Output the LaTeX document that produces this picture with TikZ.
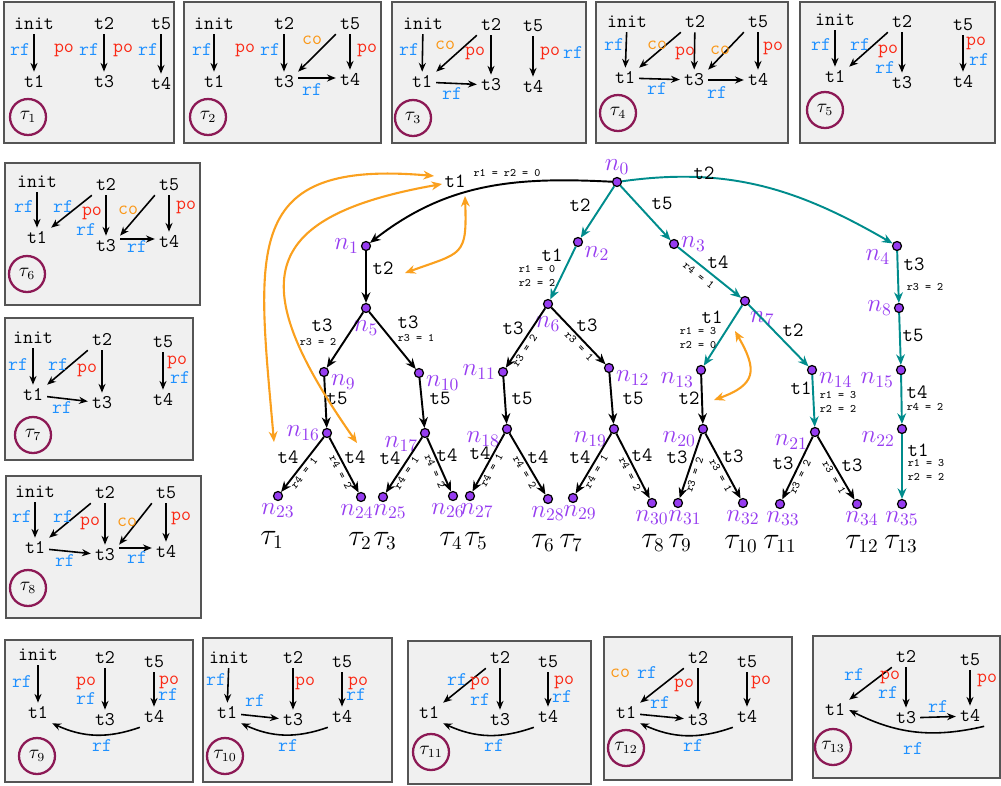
\documentclass[tikz,border=0pt]{standalone}
\usepackage{fontspec}
\usepackage{tikz}
\usetikzlibrary{arrows.meta,positioning}
\definecolor{rfblue}{RGB}{30,144,255}
\definecolor{pored}{RGB}{250,40,20}
\definecolor{coorange}{RGB}{250,150,20}
\definecolor{boxfill}{RGB}{240,240,240}
\definecolor{boxline}{RGB}{85,85,85}
\definecolor{ringred}{RGB}{140,25,85}
\definecolor{nodepurple}{RGB}{150,60,240}
\definecolor{treeteal}{RGB}{0,140,140}
\definecolor{raceorange}{RGB}{250,160,30}
\tikzset{
  ev/.style={font=\ttfamily\fontsize{11}{13}\selectfont, inner sep=2.2pt},
  rfl/.style={font=\ttfamily\fontsize{11}{13}\selectfont, text=rfblue, inner sep=0pt},
  pol/.style={font=\ttfamily\fontsize{11}{13}\selectfont, text=pored, inner sep=0pt},
  col/.style={font=\ttfamily\fontsize{11}{13}\selectfont, text=coorange, inner sep=0pt},
  relarrow/.style={-{Stealth[length=5pt,width=4pt]}, line width=0.9pt},
  trbox/.style={draw=boxline, fill=boxfill, line width=1pt},
  tracering/.style={circle, draw=ringred, line width=1.3pt, minimum size=7.2mm, inner sep=0pt, font=\fontsize{10.5}{12}\selectfont},
  tnode/.style={circle, draw=black, fill=nodepurple, line width=0.7pt, minimum size=1.8mm, inner sep=0pt, label distance=0.5pt},
  nlab/.style={text=nodepurple, font=\fontsize{14}{16}\selectfont, inner sep=1pt},
  tedge/.style={-{Stealth[length=6pt,width=5pt]}, line width=1.1pt},
  elab/.style={font=\ttfamily\fontsize{11.5}{13}\selectfont, inner sep=0pt},
  rlab/.style={font=\ttfamily\fontsize{6.5}{7.5}\selectfont, inner sep=1pt, align=center},
  leaflab/.style={font=\fontsize{16}{18}\selectfont, inner sep=0pt},
  racearrow/.style={{Stealth[length=6pt,width=5pt]}-{Stealth[length=6pt,width=5pt]}, draw=raceorange, line width=1.2pt},
}
\begin{document}
\begin{tikzpicture}[x=0.2mm,y=-0.2mm]
\useasboundingbox (0,0) rectangle (1001,786);

% trace tau1
\begin{scope}[shift={(4,2)}]
  \draw[trbox] (0,0) rectangle (170,141);
  \node[ev] (s1init) at (30,22) {init};
  \node[ev] (s1t2) at (100,22) {t2};
  \node[ev] (s1t5) at (157,22) {t5};
  \node[ev] (s1t1) at (30,80) {t1};
  \node[ev] (s1t3) at (100,80) {t3};
  \node[ev] (s1t4) at (157,82) {t4};
  \path[relarrow] (s1init) edge (s1t1) (s1t2) edge (s1t3) (s1t5) edge (s1t4);
  \node[rfl] (s1a) at (16,48) {rf};
  \node[pol] (s1b) at (60,48) {po};
  \node[rfl] (s1c) at (85,48) {rf};
  \node[pol] (s1d) at (119,48) {po};
  \node[rfl] (s1e) at (144,48) {rf};
  \node[tracering] (c1) at (24,115) {$\tau_{1}$};
\end{scope}

% trace tau2
\begin{scope}[shift={(184,2)}]
  \draw[trbox] (0,0) rectangle (197,141);
  \node[ev] (s2init) at (30,22) {init};
  \node[ev] (s2t2) at (100,22) {t2};
  \node[ev] (s2t5) at (166,22) {t5};
  \node[ev] (s2t1) at (30,80) {t1};
  \node[ev] (s2t3) at (100,80) {t3};
  \node[ev] (s2t4) at (166,78) {t4};
  \path[relarrow] (s2init) edge (s2t1) (s2t2) edge (s2t3) (s2t5) edge (s2t4);
  \path[relarrow] (s2t5.south west) edge (s2t3.north east);
  \path[relarrow] ([yshift=0.8mm]s2t3.east) edge ([yshift=0.8mm]s2t3.east -| s2t4.west);
  \node[rfl] (s2a) at (18,48) {rf};
  \node[pol] (s2b) at (61,48) {po};
  \node[rfl] (s2c) at (86,48) {rf};
  \node[col] (s2d) at (128,38) {co};
  \node[pol] (s2e) at (183,48) {po};
  \node[rfl] (s2f) at (128,88) {rf};
  \node[tracering] (c2) at (24,115) {$\tau_{2}$};
\end{scope}

% trace tau3
\begin{scope}[shift={(392,2)}]
  \draw[trbox] (0,0) rectangle (194,141);
  \node[ev] (s3init) at (31,22) {init};
  \node[ev] (s3t2) at (99,23) {t2};
  \node[ev] (s3t5) at (141,24) {t5};
  \node[ev] (s3t1) at (30,80) {t1};
  \node[ev] (s3t3) at (99,83) {t3};
  \node[ev] (s3t4) at (141,85) {t4};
  \path[relarrow] (s3init) edge (s3t1) (s3t2) edge (s3t3) (s3t5) edge (s3t4);
  \path[relarrow] (s3t2.south west) edge (s3t1.north east) (s3t1) edge (s3t3);
  \node[rfl] (s3a) at (17,48) {rf};
  \node[col] (s3b) at (53,43) {co};
  \node[pol] (s3c) at (83,51) {po};
  \node[pol] (s3d) at (158,51) {po};
  \node[rfl] (s3e) at (181,51) {rf};
  \node[rfl] (s3f) at (60,92) {rf};
  \node[tracering] (c3) at (21,116) {$\tau_{3}$};
\end{scope}

% trace tau4
\begin{scope}[shift={(596,2)}]
  \draw[trbox] (0,0) rectangle (192,141);
  \node[ev] (s4init) at (31,20) {init};
  \node[ev] (s4t2) at (99,20) {t2};
  \node[ev] (s4t5) at (162,20) {t5};
  \node[ev] (s4t1) at (29,76) {t1};
  \node[ev] (s4t3) at (98,78) {t3};
  \node[ev] (s4t4) at (162,78) {t4};
  \path[relarrow] (s4init) edge (s4t1) (s4t2) edge (s4t3) (s4t5) edge (s4t4);
  \path[relarrow] (s4t2.south west) edge (s4t1.north east) (s4t5.south west) edge (s4t3.north east);
  \path[relarrow] (s4t1) edge (s4t3) (s4t3) edge (s4t4);
  \node[rfl] (s4a) at (18,43) {rf};
  \node[col] (s4b) at (61,43) {co};
  \node[pol] (s4c) at (89,51) {po};
  \node[col] (s4d) at (124,48) {co};
  \node[pol] (s4e) at (177,46) {po};
  \node[rfl] (s4f) at (61,87) {rf};
  \node[rfl] (s4g) at (121,91) {rf};
  \node[tracering] (c4) at (22,111) {$\tau_{4}$};
\end{scope}

% trace tau5
\begin{scope}[shift={(800,2)}]
  \draw[trbox] (0,0) rectangle (195,141);
  \node[ev] (s5init) at (35,18) {init};
  \node[ev] (s5t2) at (102,20) {t2};
  \node[ev] (s5t5) at (163,23) {t5};
  \node[ev] (s5t1) at (35,75) {t1};
  \node[ev] (s5t3) at (102,81) {t3};
  \node[ev] (s5t4) at (163,80) {t4};
  \path[relarrow] (s5init) edge (s5t1) (s5t2) edge (s5t3) (s5t5) edge (s5t4);
  \path[relarrow] (s5t2.south west) edge (s5t1.north east);
  \node[rfl] (s5a) at (21,43) {rf};
  \node[rfl] (s5b) at (60,43) {rf};
  \node[pol] (s5c) at (88,49) {po};
  \node[rfl] (s5d) at (85,66) {rf};
  \node[pol] (s5e) at (176,41) {po};
  \node[rfl] (s5f) at (179,58) {rf};
  \node[tracering] (c5) at (25,108) {$\tau_{5}$};
\end{scope}

% trace tau6
\begin{scope}[shift={(5,163)}]
  \draw[trbox] (0,0) rectangle (195,142);
  \node[ev] (s6init) at (32,19) {init};
  \node[ev] (s6t2) at (101,22) {t2};
  \node[ev] (s6t5) at (164,22) {t5};
  \node[ev] (s6t1) at (32,75) {t1};
  \node[ev] (s6t3) at (101,83) {t3};
  \node[ev] (s6t4) at (164,79) {t4};
  \path[relarrow] (s6init) edge (s6t1) (s6t2) edge (s6t3) (s6t5) edge (s6t4);
  \path[relarrow] (s6t2.south west) edge (s6t1.north east) (s6t5.south west) edge (s6t3.north east);
  \path[relarrow] ([yshift=1.4mm]s6t3.east) edge ([yshift=1.4mm]s6t3.east -| s6t4.west);
  \node[rfl] (s6a) at (19,44) {rf};
  \node[rfl] (s6b) at (58,44) {rf};
  \node[pol] (s6c) at (87,50) {po};
  \node[rfl] (s6d) at (81,67) {rf};
  \node[col] (s6e) at (123,47) {co};
  \node[pol] (s6f) at (181,44) {po};
  \node[rfl] (s6g) at (132,84) {rf};
  \node[tracering] (c6) at (22,111) {$\tau_{6}$};
\end{scope}

% trace tau7
\begin{scope}[shift={(5,318)}]
  \draw[trbox] (0,0) rectangle (188,142);
  \node[ev] (s7init) at (28,20) {init};
  \node[ev] (s7t2) at (97,22) {t2};
  \node[ev] (s7t5) at (158,24) {t5};
  \node[ev] (s7t1) at (28,77) {t1};
  \node[ev] (s7t3) at (97,85) {t3};
  \node[ev] (s7t4) at (158,82) {t4};
  \path[relarrow] (s7init) edge (s7t1) (s7t2) edge (s7t3) (s7t5) edge (s7t4);
  \path[relarrow] (s7t2.south west) edge (s7t1.north east) (s7t1) edge (s7t3);
  \node[rfl] (s7a) at (13,47) {rf};
  \node[rfl] (s7b) at (53,47) {rf};
  \node[pol] (s7c) at (82,52) {po};
  \node[pol] (s7d) at (172,44) {po};
  \node[rfl] (s7e) at (175,60) {rf};
  \node[rfl] (s7f) at (57,90) {rf};
  \node[tracering] (c7) at (28,117) {$\tau_{7}$};
\end{scope}

% trace tau8
\begin{scope}[shift={(6,476)}]
  \draw[trbox] (0,0) rectangle (195,142);
  \node[ev] (s8init) at (29,16) {init};
  \node[ev] (s8t2) at (99,17) {t2};
  \node[ev] (s8t5) at (160,17) {t5};
  \node[ev] (s8t1) at (29,72) {t1};
  \node[ev] (s8t3) at (99,79) {t3};
  \node[ev] (s8t4) at (160,76) {t4};
  \path[relarrow] (s8init) edge (s8t1) (s8t2) edge (s8t3) (s8t5) edge (s8t4);
  \path[relarrow] (s8t2.south west) edge (s8t1.north east) (s8t5.south west) edge (s8t3.north east);
  \path[relarrow] (s8t1) edge (s8t3) ([yshift=1.4mm]s8t3.east) edge ([yshift=1.4mm]s8t3.east -| s8t4.west);
  \node[rfl] (s8a) at (16,41) {rf};
  \node[rfl] (s8b) at (57,41) {rf};
  \node[pol] (s8c) at (84,47) {po};
  \node[col] (s8d) at (121,46) {co};
  \node[pol] (s8e) at (175,42) {po};
  \node[rfl] (s8f) at (59,85) {rf};
  \node[rfl] (s8g) at (131,82) {rf};
  \node[tracering] (c8) at (22,112) {$\tau_{8}$};
\end{scope}

% trace tau9
\begin{scope}[shift={(5,640)}]
  \draw[trbox] (0,0) rectangle (188,142);
  \node[ev] (s9init) at (33,15) {init};
  \node[ev] (s9t2) at (100,18) {t2};
  \node[ev] (s9t5) at (149,22) {t5};
  \node[ev] (s9t1) at (33,73) {t1};
  \node[ev] (s9t3) at (100,80) {t3};
  \node[ev] (s9t4) at (149,77) {t4};
  \path[relarrow] (s9init) edge (s9t1) (s9t2) edge (s9t3) (s9t5) edge (s9t4);
  \path[relarrow] (s9t4.south west) edge[bend left=22] (s9t1.south east);
  \node[rfl] (s9a) at (17,42) {rf};
  \node[pol] (s9b) at (81,43) {po};
  \node[rfl] (s9c) at (81,59) {rf};
  \node[pol] (s9d) at (164,42) {po};
  \node[rfl] (s9e) at (163,55) {rf};
  \node[rfl] (s9f) at (97,106) {rf};
  \node[tracering] (c9) at (32,116) {$\tau_{9}$};
\end{scope}

% trace tau10
\begin{scope}[shift={(203,638)}]
  \draw[trbox] (0,0) rectangle (189,144);
  \node[ev] (s10init) at (26,20) {init};
  \node[ev] (s10t2) at (90,20) {t2};
  \node[ev] (s10t5) at (139,24) {t5};
  \node[ev] (s10t1) at (24,75) {t1};
  \node[ev] (s10t3) at (90,82) {t3};
  \node[ev] (s10t4) at (139,79) {t4};
  \path[relarrow] (s10init) edge (s10t1) (s10t2) edge (s10t3) (s10t5) edge (s10t4);
  \path[relarrow] (s10t1) edge (s10t3) (s10t4.south west) edge[bend left=22] (s10t1.south east);
  \node[rfl] (s10a) at (13,42) {rf};
  \node[rfl] (s10b) at (52,63) {rf};
  \node[pol] (s10c) at (102,45) {po};
  \node[pol] (s10d) at (155,45) {po};
  \node[rfl] (s10e) at (153,57) {rf};
  \node[rfl] (s10f) at (85,108) {rf};
  \node[tracering] (c10) at (22,118) {$\tau_{10}$};
\end{scope}

% trace tau11
\begin{scope}[shift={(408,641)}]
  \draw[trbox] (0,0) rectangle (183,143);
  \node[ev] (s11t2) at (92,17) {t2};
  \node[ev] (s11t5) at (140,21) {t5};
  \node[ev] (s11t1) at (21,72) {t1};
  \node[ev] (s11t3) at (92,79) {t3};
  \node[ev] (s11t4) at (140,76) {t4};
  \path[relarrow] (s11t2) edge (s11t3) (s11t5) edge (s11t4);
  \path[relarrow] (s11t2.south west) edge (s11t1.north east) (s11t4.south west) edge[bend left=22] (s11t1.south east);
  \node[rfl] (s11a) at (49,39) {rf};
  \node[pol] (s11b) at (72,42) {po};
  \node[rfl] (s11c) at (72,59) {rf};
  \node[pol] (s11d) at (156,41) {po};
  \node[rfl] (s11e) at (154,56) {rf};
  \node[rfl] (s11f) at (86,105) {rf};
  \node[tracering] (c11) at (23,111) {$\tau_{11}$};
\end{scope}

% trace tau12
\begin{scope}[shift={(604,637)}]
  \draw[trbox] (0,0) rectangle (188,143);
  \node[ev] (s12t2) at (94,21) {t2};
  \node[ev] (s12t5) at (143,25) {t5};
  \node[ev] (s12t1) at (22,76) {t1};
  \node[ev] (s12t3) at (94,83) {t3};
  \node[ev] (s12t4) at (143,80) {t4};
  \path[relarrow] (s12t2) edge (s12t3) (s12t5) edge (s12t4);
  \path[relarrow] (s12t2.south west) edge (s12t1.north east) (s12t1) edge (s12t3);
  \path[relarrow] (s12t4.south west) edge[bend left=22] (s12t1.south east);
  \node[col] (s12a) at (16,36) {co};
  \node[rfl] (s12b) at (43,36) {rf};
  \node[pol] (s12c) at (80,48) {po};
  \node[rfl] (s12d) at (56,66) {rf};
  \node[pol] (s12e) at (157,45) {po};
  \node[rfl] (s12f) at (89,109) {rf};
  \node[tracering] (c12) at (22,111) {$\tau_{12}$};
\end{scope}

% trace tau13
\begin{scope}[shift={(813,636)}]
  \draw[trbox] (0,0) rectangle (187,142);
  \node[ev] (s13t2) at (93,21) {t2};
  \node[ev] (s13t5) at (157,24) {t5};
  \node[ev] (s13t1) at (22,74) {t1};
  \node[ev] (s13t3) at (93,82) {t3};
  \node[ev] (s13t4) at (157,80) {t4};
  \path[relarrow] (s13t2) edge (s13t3) (s13t5) edge (s13t4);
  \path[relarrow] (s13t2.south west) edge (s13t1.north east) (s13t3) edge (s13t4);
  \path[relarrow] (s13t4.south east) edge[bend left=20] (s13t1.east);
  \node[rfl] (s13a) at (41,39) {rf};
  \node[pol] (s13b) at (77,41) {po};
  \node[rfl] (s13c) at (75,57) {rf};
  \node[rfl] (s13d) at (125,71) {rf};
  \node[pol] (s13e) at (174,44) {po};
  \node[rfl] (s13f) at (100,113) {rf};
  \node[tracering] (c13) at (20,111) {$\tau_{13}$};
\end{scope}

% the exploration tree
\node[tnode, label={[nlab]above:$n_{0}$}] (n0) at (617,182) {};
\node[tnode, label={[nlab]left:$n_{1}$}] (n1) at (366,246) {};
\node[tnode, label={[nlab]-25:$n_{2}$}] (n2) at (578,242) {};
\node[tnode, label={[nlab]right:$n_{3}$}] (n3) at (674,244) {};
\node[tnode, label={[nlab]195:$n_{4}$}] (n4) at (897,246) {};
\node[tnode, label={[nlab,label distance=3pt]below:$n_{5}$}] (n5) at (366,308) {};
\node[tnode, label={[nlab,label distance=3pt]below:$n_{6}$}] (n6) at (548,304) {};
\node[tnode, label={[nlab,label distance=2pt]-70:$n_{7}$}] (n7) at (745,301) {};
\node[tnode, label={[nlab]left:$n_{8}$}] (n8) at (899,308) {};
\node[tnode, label={[nlab]-10:$n_{9}$}] (n9) at (324,372) {};
\node[tnode, label={[nlab]-10:$n_{10}$}] (n10) at (419,373) {};
\node[tnode, label={[nlab]left:$n_{11}$}] (n11) at (503,372) {};
\node[tnode, label={[nlab]-10:$n_{12}$}] (n12) at (609,368) {};
\node[tnode, label={[nlab]190:$n_{13}$}] (n13) at (701,370) {};
\node[tnode, label={[nlab]-10:$n_{14}$}] (n14) at (812,370) {};
\node[tnode, label={[nlab]190:$n_{15}$}] (n15) at (901,370) {};
\node[tnode, label={[nlab]left:$n_{16}$}] (n16) at (327,433) {};
\node[tnode, label={[nlab]195:$n_{17}$}] (n17) at (425,433) {};
\node[tnode, label={[nlab]190:$n_{18}$}] (n18) at (507,429) {};
\node[tnode, label={[nlab]190:$n_{19}$}] (n19) at (614,429) {};
\node[tnode, label={[nlab]190:$n_{20}$}] (n20) at (703,429) {};
\node[tnode, label={[nlab]190:$n_{21}$}] (n21) at (815,432) {};
\node[tnode, label={[nlab]190:$n_{22}$}] (n22) at (902,429) {};
\node[tnode, label={[nlab]below:$n_{23}$}] (n23) at (278,496) {};
\node[tnode, label={[nlab,xshift=-0.8mm]below:$n_{24}$}] (n24) at (361,497) {};
\node[tnode, label={[nlab,xshift=1.4mm]below:$n_{25}$}] (n25) at (383,497) {};
\node[tnode, label={[nlab,xshift=-1mm]below:$n_{26}$}] (n26) at (453,496) {};
\node[tnode, label={[nlab,xshift=1.4mm]below:$n_{27}$}] (n27) at (470,496) {};
\node[tnode, label={[nlab]below:$n_{28}$}] (n28) at (548,499) {};
\node[tnode, label={[nlab,xshift=1.4mm]below:$n_{29}$}] (n29) at (573,498) {};
\node[tnode, label={[nlab]below:$n_{30}$}] (n30) at (652,503) {};
\node[tnode, label={[nlab,xshift=1.4mm]below:$n_{31}$}] (n31) at (678,503) {};
\node[tnode, label={[nlab]below:$n_{32}$}] (n32) at (743,503) {};
\node[tnode, label={[nlab,xshift=0.6mm]below:$n_{33}$}] (n33) at (780,504) {};
\node[tnode, label={[nlab,xshift=1mm]below:$n_{34}$}] (n34) at (857,504) {};
\node[tnode, label={[nlab]below:$n_{35}$}] (n35) at (902,504) {};

% edges, teal for the path to tau13
\path[tedge] (n0) edge[out=177,in=38] (n1);
\path[tedge,treeteal] (n0) edge (n2) (n0) edge (n3) (n0) edge[out=8,in=150] (n4);
\path[tedge] (n1) edge (n5);
\path[tedge,treeteal] (n2) edge (n6) (n4) edge (n8);
\path[tedge,treeteal] (n3) edge node[rlab,sloped,below,pos=0.42,text=black,inner sep=2.5pt] (r37) {r4 = 1} (n7);
\path[tedge] (n5) edge (n9) (n5) edge (n10);
\path[tedge] (n6) edge node[rlab,sloped,below,pos=0.65] (r611) {r3 = 2} (n11);
\path[tedge] (n6) edge node[rlab,sloped,below,pos=0.6] (r612) {r3 = 1} (n12);
\path[tedge,treeteal] (n7) edge (n13) (n7) edge (n14) (n8) edge (n15);
\path[tedge] (n9) edge (n16) (n10) edge (n17) (n11) edge (n18) (n12) edge (n19) (n13) edge (n20);
\path[tedge,treeteal] (n14) edge (n21) (n15) edge (n22) (n22) edge (n35);
\path[tedge] (n16) edge node[rlab,sloped,below,pos=0.58] (r1623) {r4 = 1} (n23);
\path[tedge] (n16) edge node[rlab,sloped,below,pos=0.58] (r1624) {r4 = 2} (n24);
\path[tedge] (n17) edge node[rlab,sloped,below,pos=0.58] (r1725) {r4 = 1} (n25);
\path[tedge] (n17) edge node[rlab,sloped,below,pos=0.58] (r1726) {r4 = 2} (n26);
\path[tedge] (n18) edge node[rlab,sloped,below,pos=0.58] (r1827) {r4 = 1} (n27);
\path[tedge] (n18) edge node[rlab,sloped,below,pos=0.58] (r1828) {r4 = 2} (n28);
\path[tedge] (n19) edge node[rlab,sloped,below,pos=0.58] (r1929) {r4 = 1} (n29);
\path[tedge] (n19) edge node[rlab,sloped,below,pos=0.58] (r1930) {r4 = 2} (n30);
\path[tedge] (n20) edge node[rlab,sloped,below,pos=0.6] (r2031) {r3 = 2} (n31);
\path[tedge] (n20) edge node[rlab,sloped,below,pos=0.6] (r2032) {r3 = 1} (n32);
\path[tedge] (n21) edge node[rlab,sloped,below,pos=0.6] (r2133) {r3 = 2} (n33);
\path[tedge] (n21) edge node[rlab,sloped,below,pos=0.6] (r2134) {r3 = 1} (n34);

% edge labels
\node[elab] (lt01) at (455,181) {t1};
\node[rlab] (lr01) at (507,173) {r1 = r2 = 0};
\node[elab] (lt02) at (580,205) {t2};
\node[elab] (lt03) at (662,203) {t5};
\node[elab] (lt04) at (704,173) {t2};
\node[elab] (lt15) at (383,268) {t2};
\node[elab] (lt26) at (552,255) {t1};
\node[rlab] (lr26) at (537,276) {r1 = 0\\r2 = 2};
\node[elab] (lt37) at (718,262) {t4};
\node[elab] (lt48) at (914,264) {t3};
\node[rlab] (lr48) at (925,287) {r3 = 2};
\node[elab] (lt59) at (322,325) {t3};
\node[rlab] (lr59) at (318,342) {r3 = 2};
\node[elab] (lt510) at (408,322) {t3};
\node[rlab] (lr510) at (416,338) {r3 = 1};
\node[elab] (lt611) at (513,328) {t3};
\node[elab] (lt612) at (587,325) {t3};
\node[elab] (lt713) at (712,317) {t1};
\node[rlab] (lr713) at (698,338) {r1 = 3\\r2 = 0};
\node[elab] (lt714) at (793,330) {t2};
\node[elab] (lt815) at (913,335) {t5};
\node[elab] (lt916) at (337,398) {t5};
\node[elab] (lt1017) at (440,398) {t5};
\node[elab] (lt1118) at (522,398) {t5};
\node[elab] (lt1219) at (633,398) {t5};
\node[elab] (lt1320) at (689,398) {t2};
\node[elab] (lt1421) at (801,388) {t1};
\node[rlab] (lr1421) at (838,402) {r1 = 3\\r2 = 2};
\node[elab] (lt1522) at (917,392) {t4};
\node[rlab] (lr1522) at (925,407) {r4 = 2};
\node[elab] (lt1623) at (288,457) {t4};
\node[elab] (lt1624) at (355,457) {t4};
\node[elab] (lt1725) at (390,458) {t4};
\node[elab] (lt1726) at (447,455) {t4};
\node[elab] (lt1827) at (480,453) {t4};
\node[elab] (lt1828) at (538,457) {t4};
\node[elab] (lt1929) at (580,457) {t4};
\node[elab] (lt1930) at (642,455) {t4};
\node[elab] (lt2031) at (677,457) {t3};
\node[elab] (lt2032) at (733,456) {t3};
\node[elab] (lt2133) at (783,463) {t3};
\node[elab] (lt2134) at (852,465) {t3};
\node[elab] (lt2235) at (918,450) {t1};
\node[rlab] (lr2235) at (926,470) {r1 = 3\\r2 = 2};

% traces at the leaves
\node[leaflab] (tau1) at (272,540) {$\tau_{1}$};
\node[leaflab] (tau2) at (360,541) {$\tau_{2}$};
\node[leaflab] (tau3) at (385,541) {$\tau_{3}$};
\node[leaflab] (tau4) at (451,541) {$\tau_{4}$};
\node[leaflab] (tau5) at (476,541) {$\tau_{5}$};
\node[leaflab] (tau6) at (543,543) {$\tau_{6}$};
\node[leaflab] (tau7) at (571,543) {$\tau_{7}$};
\node[leaflab] (tau8) at (653,543) {$\tau_{8}$};
\node[leaflab] (tau9) at (680,543) {$\tau_{9}$};
\node[leaflab] (tau10) at (741,544) {$\tau_{10}$};
\node[leaflab] (tau11) at (780,544) {$\tau_{11}$};
\node[leaflab] (tau12) at (862,544) {$\tau_{12}$};
\node[leaflab] (tau13) at (901,544) {$\tau_{13}$};

% races between events
\coordinate (rcA) at (465,196);
\coordinate (rcB) at (405,273);
\coordinate (rcC) at (434,176);
\coordinate (rcD) at (274,442);
\coordinate (rcE) at (442,184);
\coordinate (rcF) at (357,443);
\coordinate (rcG) at (735,331);
\coordinate (rcH) at (714,400);
\draw[racearrow] (rcB) to[out=20,in=-88,looseness=1.6] (rcA);
\draw[racearrow] (rcC) to[out=175,in=95,looseness=1.6] (rcD);
\draw[racearrow] (rcE) to[out=190,in=125,looseness=1.8] (rcF);
\draw[racearrow] (rcH) to[out=20,in=-60,looseness=1.6] (rcG);
\end{tikzpicture}
\end{document}
